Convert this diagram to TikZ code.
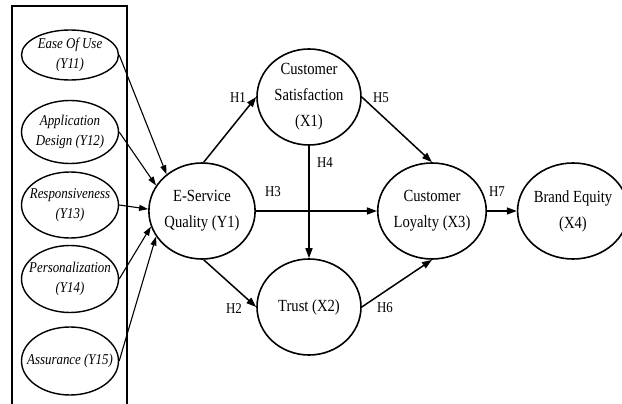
\documentclass[tikz,border=0pt]{standalone}
\usepackage{fontspec}
\setmainfont{Liberation Serif}[FakeStretch=0.86]
\usetikzlibrary{shapes.geometric,arrows.meta}
\tikzset{
  big/.style={ellipse, draw, line width=1.6pt, minimum width=104pt, minimum height=96pt, inner sep=0pt, align=center, font=\fontsize{17}{26}\selectfont},
  small/.style={ellipse, draw, line width=1.4pt, minimum width=97pt, inner sep=0pt},
  smalltext/.style={align=center, inner sep=0pt, font=\itshape\fontsize{15}{20}\selectfont},
  arr/.style={-{Triangle[length=10pt,width=7pt]}, line width=1.5pt},
  thinarr/.style={-{Triangle[length=9pt,width=6pt]}, line width=1.1pt},
  hlab/.style={font=\fontsize{15}{16}\selectfont, inner sep=0pt}
}
\begin{document}
\begin{tikzpicture}[x=1pt,y=-1pt]
\useasboundingbox (0,0) rectangle (622,404);
\draw[line width=1.3pt] (12,404) -- (12,6) -- (127,6) -- (127,404);
% indicator ellipses
\node[small, minimum height=50pt, label={[smalltext]center:Ease Of Use\\(Y11)}] (e1) at (70,55) {};
\node[small, minimum height=63pt, label={[smalltext]center:Application\\Design (Y12)}] (e2) at (70,132) {};
\node[small, minimum height=66pt, label={[smalltext]center:Responsiveness\\(Y13)}] (e3) at (70,205) {};
\node[small, minimum height=67pt, label={[smalltext]center:Personalization\\(Y14)}] (e4) at (70,279) {};
\node[small, minimum height=68pt, label={[smalltext]center:Assurance (Y15)}] (e5) at (70,361) {};
% constructs
\node[big] (esq) at (202,211) {E-Service\\Quality (Y1)};
\node[big] (cs) at (309,97) {Customer\\Satisfaction\\(X1)};
\node[big] (tr) at (309,307) {Trust (X2)};
\node[big] (cl) at (432,211) {Customer\\Loyalty (X3)};
\node[big] (be) at (573,211) {Brand Equity\\(X4)};
% indicator arrows
\draw[thinarr] (e1.east) -- (esq.134);
\draw[thinarr] (e2.east) -- (esq.151);
\draw[thinarr] (e3.east) -- (esq.178);
\draw[thinarr] (e4.east) -- (esq.197);
\draw[thinarr] (e5.east) -- (esq.209);
% structural arrows
\draw[arr] (esq.88) -- (cs.west);
\draw[arr] (esq.272) -- (tr.west);
\draw[arr] (esq.east) -- (cl.west);
\draw[arr] (cs.south) -- (tr.north);
\draw[arr] (cs.east) -- (cl.north);
\draw[arr] (tr.east) -- (cl.south);
\draw[arr] (cl.east) -- (be.west);
% labels
\node[hlab] (h1) at (238,98) {H1};
\node[hlab] (h2) at (234,309) {H2};
\node[hlab] (h3) at (273,192) {H3};
\node[hlab] (h4) at (325,163) {H4};
\node[hlab] (h5) at (381,98) {H5};
\node[hlab] (h6) at (385,308) {H6};
\node[hlab] (h7) at (497,192) {H7};
\end{tikzpicture}
\end{document}
